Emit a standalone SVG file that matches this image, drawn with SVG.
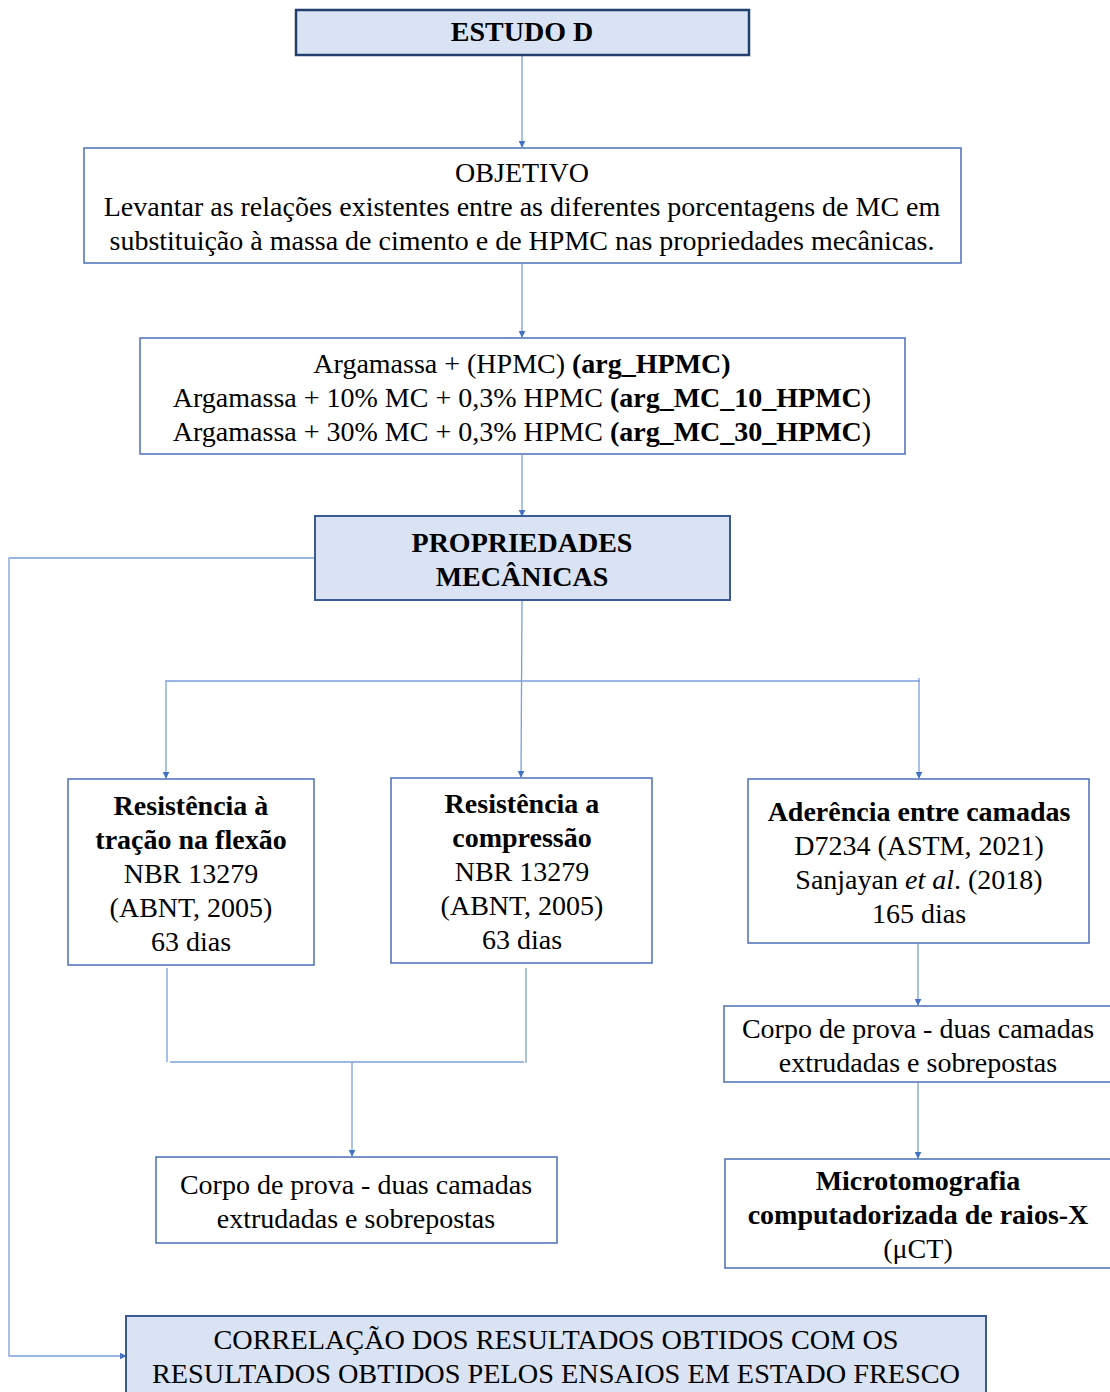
<svg xmlns="http://www.w3.org/2000/svg" width="1110" height="1392" viewBox="0 0 1110 1392">
<style>
text{font-family:"Liberation Serif","Times New Roman",serif;font-size:28px;fill:#000;text-anchor:middle}
.b{font-weight:bold}
.box{fill:#fff;stroke:#4a6fb5;stroke-width:1.5}
.hl{fill:#dae3f3;stroke:#3a5a96;stroke-width:2}
.c{fill:none;stroke:#7c9fdc;stroke-width:1.3}
</style>
<defs>
<marker id="a" viewBox="0 0 10 10" refX="9" refY="5" markerWidth="7" markerHeight="7" orient="auto" markerUnits="userSpaceOnUse"><path d="M0,0L10,5L0,10z" fill="#4472c4"/></marker>
</defs>
<rect width="1110" height="1392" fill="#fff"/>
<g id="connectors">
<line class="c" x1="522" y1="56" x2="522" y2="147" marker-end="url(#a)"/>
<line class="c" x1="522" y1="264" x2="522" y2="337" marker-end="url(#a)"/>
<line class="c" x1="522" y1="455" x2="522" y2="516" marker-end="url(#a)"/>
<line class="c" x1="522" y1="601" x2="521" y2="777" marker-end="url(#a)"/>
<line class="c" x1="165" y1="681" x2="920" y2="681"/>
<line class="c" x1="166" y1="681" x2="166" y2="778" marker-end="url(#a)"/>
<line class="c" x1="919" y1="678" x2="919" y2="778" marker-end="url(#a)"/>
<line class="c" x1="918" y1="944" x2="918" y2="1005" marker-end="url(#a)"/>
<line class="c" x1="918" y1="1083" x2="918" y2="1158" marker-end="url(#a)"/>
<line class="c" x1="167" y1="968" x2="167" y2="1062"/>
<line class="c" x1="526" y1="968" x2="526" y2="1063"/>
<line class="c" x1="170" y1="1062" x2="524" y2="1062"/>
<line class="c" x1="352" y1="1062" x2="352" y2="1156" marker-end="url(#a)"/>
<polyline class="c" points="315,558 9,558 9,1356 126,1356" marker-end="url(#a)"/>
</g>
<g id="estudo">
<rect x="296" y="10" width="453" height="45" fill="#dae3f3" stroke="#22406e" stroke-width="2.5"/>
<text x="522" y="41" class="b">ESTUDO D</text>
</g>
<g id="objetivo">
<rect class="box" x="84" y="148" width="877" height="115"/>
<text x="522" y="182">OBJETIVO</text>
<text x="522" y="216">Levantar as relações existentes entre as diferentes porcentagens de MC em</text>
<text x="522" y="250">substituição à massa de cimento e de HPMC nas propriedades mecânicas.</text>
</g>
<g id="argamassas">
<rect class="box" x="140" y="338" width="765" height="116"/>
<text x="522" y="373">Argamassa + (HPMC) <tspan class="b">(arg_HPMC)</tspan></text>
<text x="522" y="407">Argamassa + 10% MC + 0,3% HPMC <tspan class="b">(arg_MC_10_HPMC</tspan>)</text>
<text x="522" y="441">Argamassa + 30% MC + 0,3% HPMC <tspan class="b">(arg_MC_30_HPMC</tspan>)</text>
</g>
<g id="propriedades">
<rect class="hl" x="315" y="516" width="415" height="84"/>
<text x="522" y="552" class="b">PROPRIEDADES</text>
<text x="522" y="586" class="b">MECÂNICAS</text>
</g>
<g id="tracao">
<rect class="box" x="68" y="779" width="246" height="186"/>
<text x="191" y="815" class="b">Resistência à</text>
<text x="191" y="849" class="b">tração na flexão</text>
<text x="191" y="883">NBR 13279</text>
<text x="191" y="917">(ABNT, 2005)</text>
<text x="191" y="951">63 dias</text>
</g>
<g id="compressao">
<rect class="box" x="391" y="778" width="261" height="185"/>
<text x="522" y="813" class="b">Resistência a</text>
<text x="522" y="847" class="b">compressão</text>
<text x="522" y="881">NBR 13279</text>
<text x="522" y="915">(ABNT, 2005)</text>
<text x="522" y="949">63 dias</text>
</g>
<g id="aderencia">
<rect class="box" x="748" y="779" width="341" height="164"/>
<text x="919" y="821" class="b">Aderência entre camadas</text>
<text x="919" y="855">D7234 (ASTM, 2021)</text>
<text x="919" y="889">Sanjayan <tspan font-style="italic">et al</tspan>. (2018)</text>
<text x="919" y="923">165 dias</text>
</g>
<g id="corpo-direita">
<rect class="box" x="724" y="1006" width="390" height="76"/>
<text x="918" y="1038">Corpo de prova - duas camadas</text>
<text x="918" y="1072">extrudadas e sobrepostas</text>
</g>
<g id="microtomografia">
<rect class="box" x="725" y="1159" width="390" height="109"/>
<text x="918" y="1190" class="b">Microtomografia</text>
<text x="918" y="1224" class="b">computadorizada de raios-X</text>
<text x="918" y="1258">(μCT)</text>
</g>
<g id="corpo-esquerda">
<rect class="box" x="156" y="1157" width="401" height="86"/>
<text x="356" y="1194">Corpo de prova - duas camadas</text>
<text x="356" y="1228">extrudadas e sobrepostas</text>
</g>
<g id="correlacao">
<rect class="hl" x="126" y="1316" width="860" height="80" stroke="#4a6aa8" stroke-width="1.5"/>
<text x="556" y="1349" textLength="685" lengthAdjust="spacingAndGlyphs">CORRELAÇÃO DOS RESULTADOS OBTIDOS COM OS</text>
<text x="556" y="1383" textLength="808" lengthAdjust="spacingAndGlyphs">RESULTADOS OBTIDOS PELOS ENSAIOS EM ESTADO FRESCO</text>
</g>
</svg>
